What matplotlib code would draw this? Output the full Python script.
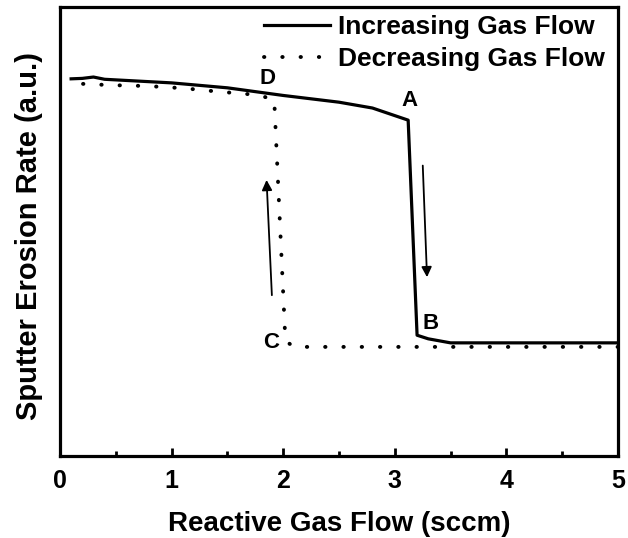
import numpy as np
import matplotlib.pyplot as plt

plt.rcParams['font.family'] = ['Liberation Sans', 'DejaVu Sans']
plt.rcParams['font.weight'] = 'bold'

# increasing gas flow branch
inc_flow = [0.1, 0.2, 0.3, 0.4, 1.0, 1.5, 2.0, 2.5, 2.8, 3.12, 3.2, 3.3, 3.5, 4.0, 4.5, 5.0]
inc_rate = [8.40, 8.41, 8.44, 8.39, 8.31, 8.20, 8.03, 7.88, 7.75, 7.48, 2.69, 2.61, 2.52, 2.52, 2.52, 2.52]

# decreasing gas flow branch
dec_flow = [5.0, 4.0, 3.0, 2.1, 2.02, 1.92, 1.78, 1.44, 1.11, 0.78, 0.45, 0.1]
dec_rate = [2.43, 2.43, 2.43, 2.43, 2.56, 7.93, 8.04, 8.11, 8.19, 8.24, 8.26, 8.30]

point_labels = ['A', 'B', 'C', 'D']
point_x = [3.13, 3.32, 1.89, 1.86]
point_y = [7.92, 2.94, 2.52, 8.40]

fig = plt.figure(figsize=(6.28, 5.38), dpi=100)
ax = fig.add_axes([0.0955, 0.1524, 0.8885, 0.8346])

ax.plot(inc_flow, inc_rate, color='black', lw=2.3, label='Increasing Gas Flow')
ax.plot(dec_flow, dec_rate, color='black', lw=2.8, dashes=(0.1, 4.6),
        dash_capstyle='round', label='Decreasing Gas Flow')

for lab, x, y in zip(point_labels, point_x, point_y):
    ax.text(x, y, lab, fontsize=16, fontweight='bold', ha='center', va='center')

# direction arrows
ax.annotate('', xy=(1.85, 6.21), xytext=(1.90, 3.52),
            arrowprops=dict(arrowstyle='-|>', color='black', lw=1.3, mutation_scale=15))
ax.annotate('', xy=(3.29, 3.92), xytext=(3.25, 6.53),
            arrowprops=dict(arrowstyle='-|>', color='black', lw=1.3, mutation_scale=15))

ax.set_xlim(0, 5)
ax.set_ylim(0, 10)
ax.set_xticks([0, 1, 2, 3, 4, 5])
ax.set_xticks(np.arange(0.5, 5, 1.0), minor=True)
ax.set_yticks([])
ax.tick_params(axis='x', which='major', direction='in', length=6, width=2, labelsize=18, pad=9)
ax.tick_params(axis='x', which='minor', direction='in', length=3.5, width=2)
for s in ax.spines.values():
    s.set_linewidth(2.3)

ax.set_xlabel('Reactive Gas Flow (sccm)', fontsize=20, fontweight='bold')
ax.set_ylabel('Sputter Erosion Rate (a.u.)', fontsize=21, fontweight='bold')
ax.xaxis.set_label_coords(0.5, -0.122)
ax.yaxis.set_label_coords(-0.03, 0.49)

ax.legend(loc='upper right', frameon=False, fontsize=19, handlelength=2.5,
          handletextpad=0.3, labelspacing=0.3, borderaxespad=0.0,
          bbox_to_anchor=(0.995, 1.005))

plt.savefig('out.png', dpi=100)
